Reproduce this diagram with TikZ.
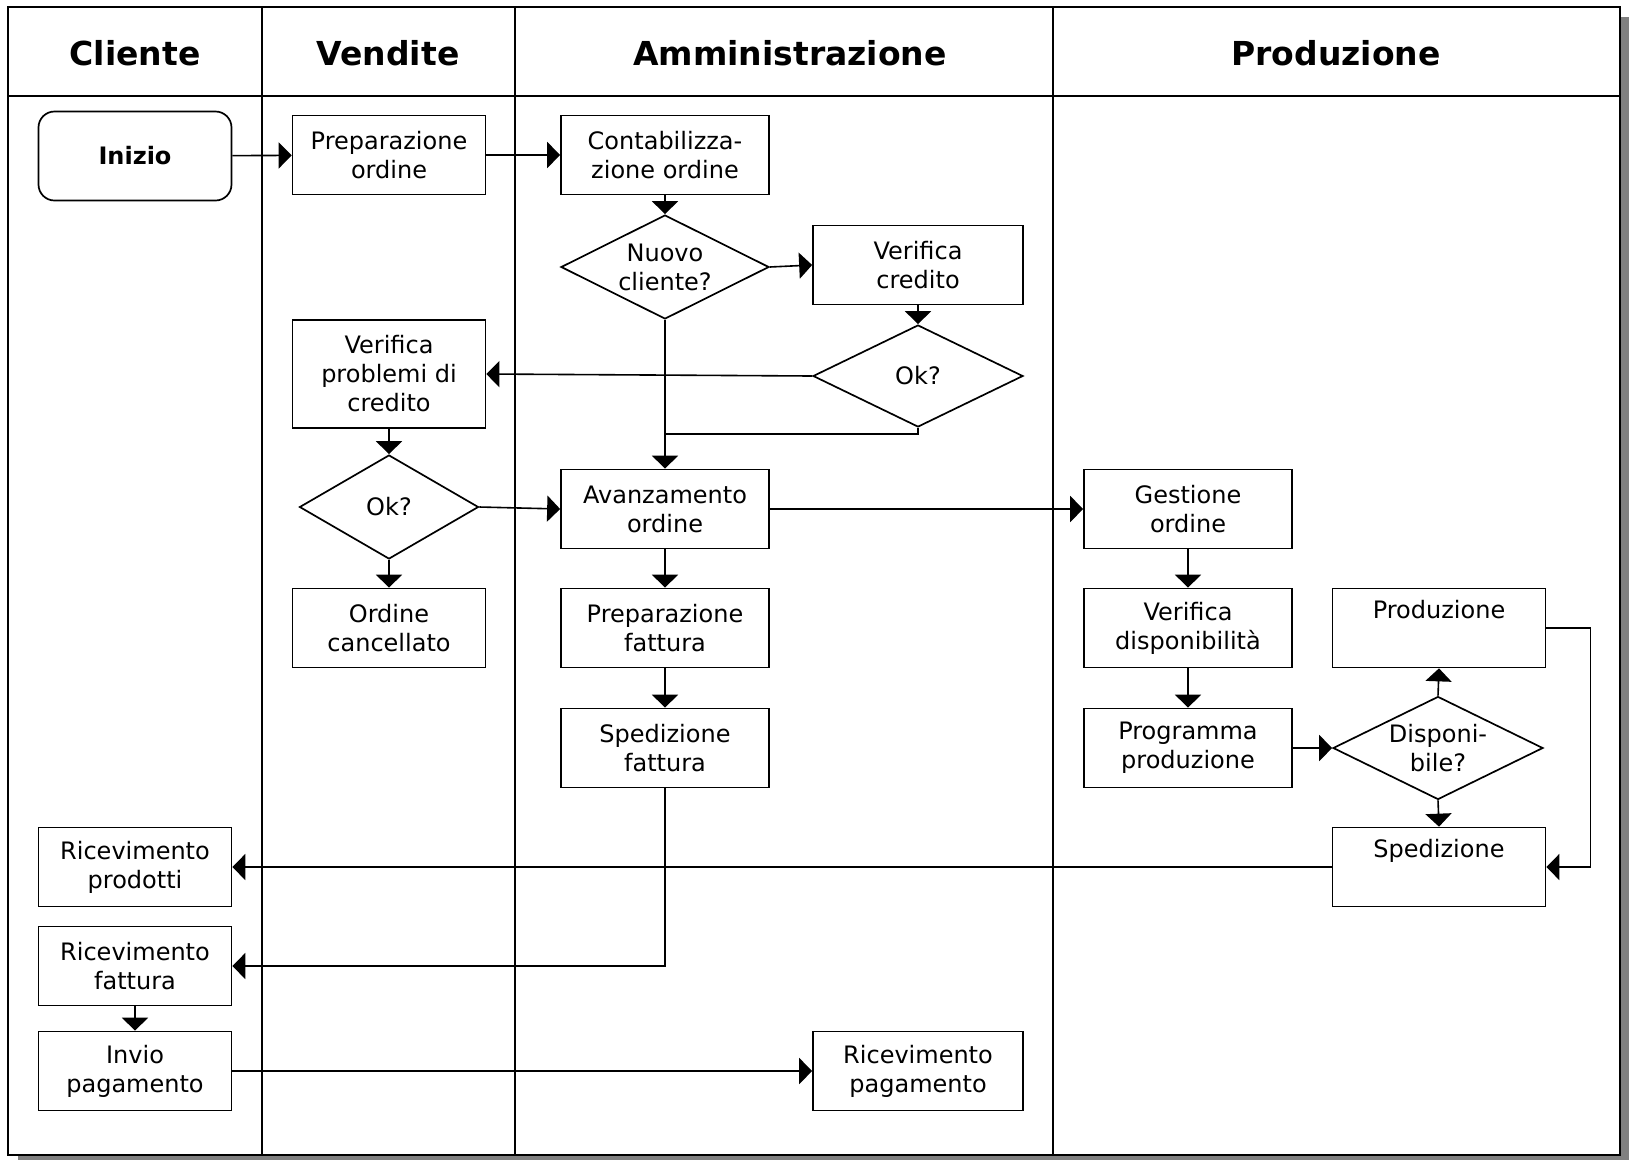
\documentclass[tikz,border=0pt]{standalone}
\usepackage{fontspec}
\setmainfont{DejaVu Sans}
\usetikzlibrary{arrows.meta,shapes.geometric}

\tikzset{
	box/.style={draw, line width=1.7pt, align=center, inner sep=2pt,
		minimum width=208pt, minimum height=79pt, font=\fontsize{24}{29}\selectfont},
	nbox/.style={box, minimum width=193pt},
	choice/.style={draw, diamond, aspect=2, line width=1.7pt, align=center, inner sep=-6pt,
		minimum width=208pt, minimum height=104pt, font=\fontsize{24}{29}\selectfont},
	lanehead/.style={font=\fontsize{33}{38}\selectfont\bfseries},
	flow/.style={line width=1.6pt, -{Triangle[length=13pt,width=26pt]}},
	lane/.style={line width=1.6pt}
}

\begin{document}
\begin{tikzpicture}[x=1pt, y=-1pt]
	\useasboundingbox (0,0) rectangle (1629,1160);
	% frame with shadow
	\fill[gray] (18,17) rectangle (1629,1160);
	\draw[lane, fill=white] (8,7) rectangle (1620,1155);
	\draw[lane] (8,96) -- (1620,96);
	\draw[lane] (262,7) -- (262,1155);
	\draw[lane] (515,7) -- (515,1155);
	\draw[lane] (1053,7) -- (1053,1155);

	\node[lanehead] (hcliente) at (135,53) {Cliente};
	\node[lanehead] (hvendite) at (388,53) {Vendite};
	\node[lanehead] (hammin) at (790,53) {Amministrazione};
	\node[lanehead] (hprod) at (1336,53) {Produzione};

	% Cliente
	\node[draw, line width=1.7pt, rounded corners=16pt, minimum width=193pt, minimum height=89pt,
		font=\fontsize{24}{29}\selectfont\bfseries] (inizio) at (135,156) {Inizio};
	\node[nbox] (ricprod) at (135,867) {Ricevimento\\prodotti};
	\node[nbox] (ricfatt) at (135,966) {Ricevimento\\fattura};
	\node[nbox] (invio) at (135,1071) {Invio\\pagamento};

	% Vendite
	\node[nbox] (prepord) at (389,155) {Preparazione\\ordine};
	\node[nbox, minimum height=108pt] (verprob) at (389,374) {Verifica\\problemi di\\credito};
	\node[choice, minimum width=179pt] (okprob) at (389,507) {Ok?};
	\node[nbox] (annull) at (389,628) {Ordine\\cancellato};

	% Amministrazione
	\node[box] (contab) at (665,155) {Contabilizza-\\zione ordine};
	\node[choice] (nuovo) at (665,267) {Nuovo\\cliente?};
	\node[box, minimum width=210pt] (vercred) at (918,265) {Verifica\\credito};
	\node[choice, minimum width=210pt, minimum height=102pt] (okcred) at (918,376) {Ok?};
	\node[box] (avanz) at (665,509) {Avanzamento\\ordine};
	\node[box] (prepfatt) at (665,628) {Preparazione\\fattura};
	\node[box] (spedfatt) at (665,748) {Spedizione\\fattura};
	\node[box, minimum width=210pt] (ricpag) at (918,1071) {Ricevimento\\pagamento};
	\coordinate (join) at (665,434);

	% Produzione
	\node[box] (gestione) at (1188,509) {Gestione\\ordine};
	\node[box] (verdisp) at (1188,628) {Verifica\\disponibilità};
	\node[box] (progprod) at (1188,748) {Programma\\produzione};
	\node[box, minimum width=213pt] (produz) at (1439,628) {Produzione\\\strut};
	\node[choice, minimum width=210pt, minimum height=103pt] (disp) at (1438,748) {Disponi-\\bile?};
	\node[box, minimum width=213pt] (sped) at (1439,867) {Spedizione\\\strut};

	\draw[flow] (inizio) -- (prepord);
	\draw[flow] (prepord) -- (contab);
	\draw[flow] (contab) -- (nuovo);
	\draw[flow] (nuovo.east) -- (vercred.west);
	\draw[flow] (vercred) -- (okcred);
	\draw[flow] (okcred.west) -- (verprob.east);
	\draw[flow] (nuovo.south) -- (avanz.north);
	\draw[lane] (okcred.south) |- (join);
	\draw[flow] (verprob) -- (okprob);
	\draw[flow] (okprob.east) -- (avanz.west);
	\draw[flow] (okprob) -- (annull);
	\draw[flow] (avanz) -- (gestione);
	\draw[flow] (avanz) -- (prepfatt);
	\draw[flow] (prepfatt) -- (spedfatt);
	\draw[flow] (spedfatt.south) |- (ricfatt.east);
	\draw[flow] (gestione) -- (verdisp);
	\draw[flow] (verdisp) -- (progprod);
	\draw[flow] (progprod.east) -- (disp.west);
	\draw[flow] (disp.north) -- (produz.south);
	\draw[flow] (disp.south) -- (sped.north);
	\draw[flow] (produz.east) -- ++(44,0) |- (sped.east);
	\draw[flow] (sped.west) -- (ricprod.east);
	\draw[flow] (ricfatt) -- (invio);
	\draw[flow] (invio.east) -- (ricpag.west);
\end{tikzpicture}
\end{document}
